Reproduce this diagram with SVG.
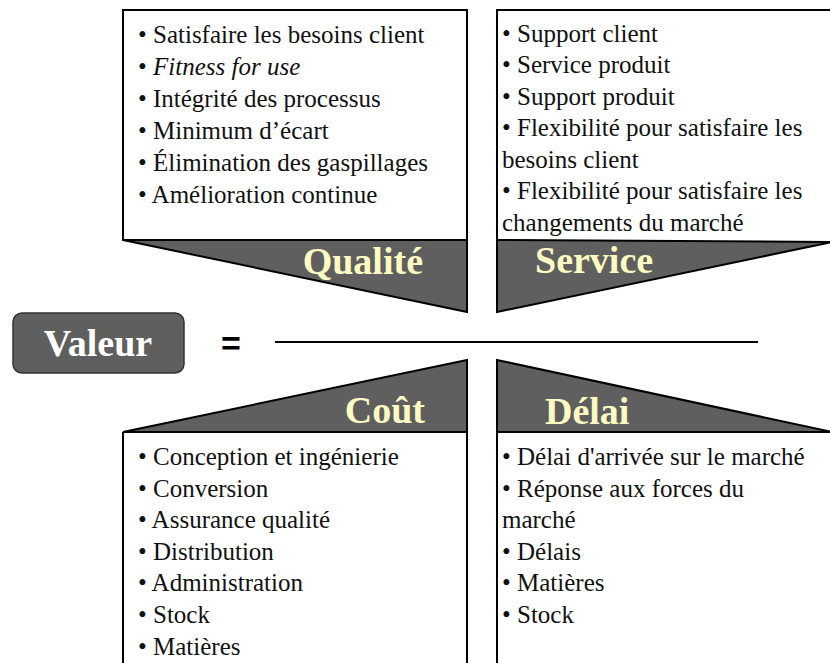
<svg xmlns="http://www.w3.org/2000/svg" width="830" height="663" viewBox="0 0 830 663">
<style>
.t{font-family:'Liberation Serif','DejaVu Serif',serif;font-size:25px;fill:#111}
.h{font-family:'Liberation Serif','DejaVu Serif',serif;font-size:38px;font-weight:bold;fill:#fdfbc2}
.box{fill:#fff;stroke:#000;stroke-width:2}
.tri{fill:#5f5f5f;stroke:#000;stroke-width:2;stroke-linejoin:miter}
.ln{fill:none;stroke:#000;stroke-width:2}
</style>
<rect width="830" height="663" fill="#fff"/>
<g id="qualite">
<rect class="box" x="123" y="10" width="344" height="230"/>
<text class="t" x="138" y="43">• Satisfaire les besoins client</text>
<text class="t" x="138" y="75">• <tspan font-style="italic">Fitness for use</tspan></text>
<text class="t" x="138" y="107">• Intégrité des processus</text>
<text class="t" x="138" y="139">• Minimum d’écart</text>
<text class="t" x="138" y="171">• Élimination des gaspillages</text>
<text class="t" x="138" y="203">• Amélioration continue</text>
<polygon class="tri" points="123,240 467,240 467,312"/>
<text class="h" x="423" y="274" text-anchor="end">Qualité</text>
</g>
<g id="service">
<text class="t" x="502" y="42">• Support client</text>
<text class="t" x="502" y="73">• Service produit</text>
<text class="t" x="502" y="105">• Support produit</text>
<text class="t" x="502" y="136">• Flexibilité pour satisfaire les</text>
<text class="t" x="502" y="168">besoins client</text>
<text class="t" x="502" y="199">• Flexibilité pour satisfaire les</text>
<text class="t" x="502" y="231">changements du marché</text>
<polygon class="tri" points="497,240 832,242 497,312"/>
<path class="ln" d="M832,10 H497 V312"/>
<text class="h" x="535" y="273">Service</text>
</g>
<g id="valeur">
<rect x="13" y="313" width="171" height="60" rx="9" fill="#5f5f5f" stroke="#333" stroke-width="1.5"/>
<text x="98" y="356" text-anchor="middle" class="h" style="fill:#fff">Valeur</text>
</g>
<g id="equals">
<text x="231" y="355" text-anchor="middle" font-family="Liberation Sans, Arial, sans-serif" font-size="34" font-weight="bold" fill="#000">=</text>
</g>
<g id="connectors">
<line x1="275" y1="342" x2="758" y2="342" stroke="#000" stroke-width="2"/>
</g>
<g id="cout">
<text class="t" x="138" y="465">• Conception et ingénierie</text>
<text class="t" x="138" y="497">• Conversion</text>
<text class="t" x="138" y="528">• Assurance qualité</text>
<text class="t" x="138" y="560">• Distribution</text>
<text class="t" x="138" y="591">• Administration</text>
<text class="t" x="138" y="623">• Stock</text>
<text class="t" x="138" y="655">• Matières</text>
<polygon class="tri" points="123,432 467,360 467,432"/>
<path class="ln" d="M123,432 V665 M467,360 V665"/>
<text class="h" x="425" y="423" text-anchor="end">Coût</text>
</g>
<g id="delai">
<text class="t" x="502" y="465">• Délai d'arrivée sur le marché</text>
<text class="t" x="502" y="497">• Réponse aux forces du</text>
<text class="t" x="502" y="528">marché</text>
<text class="t" x="502" y="560">• Délais</text>
<text class="t" x="502" y="591">• Matières</text>
<text class="t" x="502" y="623">• Stock</text>
<polygon class="tri" points="497,360 497,432 832,432"/>
<path class="ln" d="M497,360 V665"/>
<text class="h" x="545" y="424">Délai</text>
</g>
</svg>
